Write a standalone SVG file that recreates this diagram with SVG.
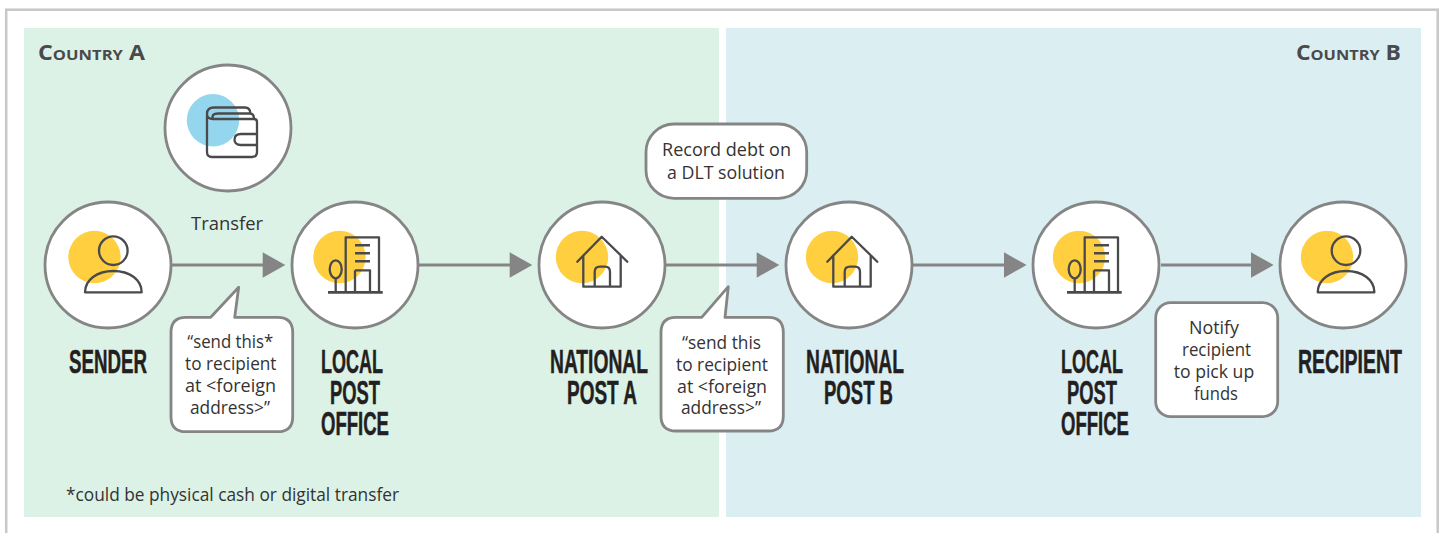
<svg xmlns="http://www.w3.org/2000/svg" width="1443" height="533" viewBox="0 0 1443 533">
<style>
.ring{fill:#fff;stroke:#858585;stroke-width:2.8}
.y{fill:#ffcf3f}
.b{fill:#93d6ee}
.ic{fill:none;stroke:#4a494b;stroke-width:2.300;stroke-linejoin:round}
.ln{fill:none;stroke:#858585;stroke-width:2.800}
.hd{fill:#858585}
.bub{fill:#fff;stroke:#858585;stroke-width:2.800;stroke-linejoin:round}
text{font-family:"Open Sans","Noto Sans","Liberation Sans",sans-serif;fill:#333;font-size:17.5px}
.t{font-family:"Liberation Sans",Arial,sans-serif;font-weight:700;font-size:33px;fill:#231f20;stroke:#231f20;stroke-width:.5}
.k{font-family:"Open Sans","Noto Sans",sans-serif;font-weight:700;font-size:21px;font-variant:small-caps;fill:#4a494b}
</style>
<defs>
<g id="person" class="ic"><circle cx="113.300" cy="250.700" r="14.300"/><path d="M85 292.300C85 280 97 271 113.300 271C130 271 141.700 280 141.700 292.300Z"/></g>
<g id="building" class="ic"><path d="M345.700 292V237.300H379V292M355 270.300H370V292M355 270.300V292M335.700 278V292"/><ellipse cx="335.700" cy="269.300" rx="6" ry="9"/><path d="M355 245.300H370M355 253.300H370M355 261.300H370" stroke-width="2.500"/><path d="M328 292.300H382.700" stroke-width="2.800"/></g>
<g id="house" class="ic"><path d="M577.300 261.700L601.700 236.700L627.300 261.700M583.300 255.500V286.700H620.700V255.500M594.700 286.700V272Q594.700 266.700 600 266.700H605Q610 266.700 610 272V286.700" stroke-linecap="round"/></g>
</defs>
<rect x="6.200" y="9.700" width="1431.500" height="530" fill="#fff" stroke="#c8c8c8" stroke-width="2.500"/>
<rect x="24" y="28" width="695" height="489" fill="#dcf2e7"/>
<rect x="726" y="28" width="695" height="489" fill="#dbeff2"/>
<text class="k" x="38" y="60" textLength="107" lengthAdjust="spacingAndGlyphs">Country A</text>
<text class="k" x="1296" y="60" textLength="105" lengthAdjust="spacingAndGlyphs">Country B</text>
<text x="66" y="500.500" textLength="333" lengthAdjust="spacingAndGlyphs">*could be physical cash or digital transfer</text>

<g id="connectors">
<path class="ln" d="M172 265H264"/><polygon class="hd" points="262.700,252.300 285.300,265 262.700,277.700"/>
<path class="ln" d="M419 265H511"/><polygon class="hd" points="509.700,252.300 532.300,265 509.700,277.700"/>
<path class="ln" d="M666 265H758"/><polygon class="hd" points="756.700,252.300 779.300,265 756.700,277.700"/>
<path class="ln" d="M913 265H1005"/><polygon class="hd" points="1004,252.300 1026.600,265 1004,277.700"/>
<path class="ln" d="M1161 265H1252"/><polygon class="hd" points="1251,252.300 1273.600,265 1251,277.700"/>
</g>

<g id="wallet"><circle class="ring" cx="228" cy="128" r="63"/><circle class="b" cx="213" cy="120.300" r="26.200"/>
<g class="ic"><path d="M207 115V152Q207 157 212 157H252Q257 157 257 152V122Q257 119 254 119H213Q207 119 207 114Q207 107.500 214 107.500H245Q250 107.500 250.500 113.500M213 119Q211 113.500 218 113.500H250Q254 113.500 254 119M257 134H241Q234.500 134 234.500 139.500Q234.500 145 241 145H257"/></g>
<text x="191" y="230" textLength="72" lengthAdjust="spacingAndGlyphs">Transfer</text></g>

<g id="sender"><circle class="ring" cx="108" cy="265" r="63"/><circle class="y" cx="94.500" cy="257" r="26.200"/><use href="#person"/>
<text class="t" transform="translate(69 373) scale(.6 1)" textLength="130" lengthAdjust="spacingAndGlyphs">SENDER</text></g>

<g id="local-post-office-a"><circle class="ring" cx="355" cy="265" r="63"/><circle class="y" cx="339.500" cy="257" r="26.200"/><use href="#building"/>
<text class="t" transform="translate(321 373) scale(.6 1)" textLength="103.300" lengthAdjust="spacingAndGlyphs">LOCAL</text><text class="t" transform="translate(330 404) scale(.6 1)" textLength="83.300" lengthAdjust="spacingAndGlyphs">POST</text><text class="t" transform="translate(321 435) scale(.6 1)" textLength="113.300" lengthAdjust="spacingAndGlyphs">OFFICE</text></g>

<g id="national-post-a"><circle class="ring" cx="602" cy="265" r="63"/><circle class="y" cx="582" cy="257" r="26.200"/><use href="#house"/>
<text class="t" transform="translate(550 373) scale(.6 1)" textLength="163.300" lengthAdjust="spacingAndGlyphs">NATIONAL</text><text class="t" transform="translate(567 404) scale(.6 1)" textLength="116.700" lengthAdjust="spacingAndGlyphs">POST A</text></g>

<g id="national-post-b"><circle class="ring" cx="849" cy="265" r="63"/><circle class="y" cx="832" cy="257" r="26.200"/><use href="#house" x="250"/>
<text class="t" transform="translate(806 373) scale(.6 1)" textLength="163.300" lengthAdjust="spacingAndGlyphs">NATIONAL</text><text class="t" transform="translate(824 404) scale(.6 1)" textLength="115" lengthAdjust="spacingAndGlyphs">POST B</text></g>

<g id="local-post-office-b"><circle class="ring" cx="1096" cy="265" r="63"/><circle class="y" cx="1079" cy="257" r="26.200"/><use href="#building" x="739"/>
<text class="t" transform="translate(1061 373) scale(.6 1)" textLength="103.300" lengthAdjust="spacingAndGlyphs">LOCAL</text><text class="t" transform="translate(1067 404) scale(.6 1)" textLength="83.300" lengthAdjust="spacingAndGlyphs">POST</text><text class="t" transform="translate(1061 435) scale(.6 1)" textLength="113.300" lengthAdjust="spacingAndGlyphs">OFFICE</text></g>

<g id="recipient"><circle class="ring" cx="1343" cy="265" r="63"/><circle class="y" cx="1327" cy="257" r="26.200"/><use href="#person" x="1232.700"/>
<text class="t" transform="translate(1298 373) scale(.6 1)" textLength="173.300" lengthAdjust="spacingAndGlyphs">RECIPIENT</text></g>

<g id="callout-send-a"><path class="bub" d="M186 317.300H210.700L238.700 287.300L234.700 317.300H277.700Q292.700 317.300 292.700 332.300V416.700Q292.700 431.700 277.700 431.700H186Q171 431.700 171 416.700V332.300Q171 317.300 186 317.300Z"/>
<text x="187.300" y="348" textLength="86" lengthAdjust="spacingAndGlyphs">“send this*</text><text x="185" y="370" textLength="91.500" lengthAdjust="spacingAndGlyphs">to recipient</text><text x="185" y="392" textLength="91" lengthAdjust="spacingAndGlyphs">at &lt;foreign</text><text x="190" y="414" textLength="80" lengthAdjust="spacingAndGlyphs">address&gt;”</text></g>

<g id="callout-send-b"><path class="bub" d="M676 317.300H701.700L728.300 286.700L725 317.300H768.300Q783.300 317.300 783.300 332.300V416Q783.300 431 768.300 431H676Q661 431 661 416V332.300Q661 317.300 676 317.300Z"/>
<text x="682" y="348.500" textLength="79" lengthAdjust="spacingAndGlyphs">“send this</text><text x="676" y="370.500" textLength="92" lengthAdjust="spacingAndGlyphs">to recipient</text><text x="677" y="392.500" textLength="90" lengthAdjust="spacingAndGlyphs">at &lt;foreign</text><text x="681" y="414" textLength="80" lengthAdjust="spacingAndGlyphs">address&gt;”</text></g>

<g id="callout-record"><rect class="bub" x="646" y="124" width="160.700" height="74.300" rx="28"/>
<text x="662" y="156" textLength="129" lengthAdjust="spacingAndGlyphs">Record debt on</text><text x="667" y="179" textLength="118" lengthAdjust="spacingAndGlyphs">a DLT solution</text></g>

<g id="callout-notify"><rect class="bub" x="1155.700" y="302.700" width="122" height="114" rx="15"/>
<text x="1189" y="333.500" textLength="50" lengthAdjust="spacingAndGlyphs">Notify</text><text x="1182" y="355.500" textLength="69" lengthAdjust="spacingAndGlyphs">recipient</text><text x="1173.700" y="377.500" textLength="80.500" lengthAdjust="spacingAndGlyphs">to pick up</text><text x="1194" y="399.500" textLength="44" lengthAdjust="spacingAndGlyphs">funds</text></g>
</svg>
